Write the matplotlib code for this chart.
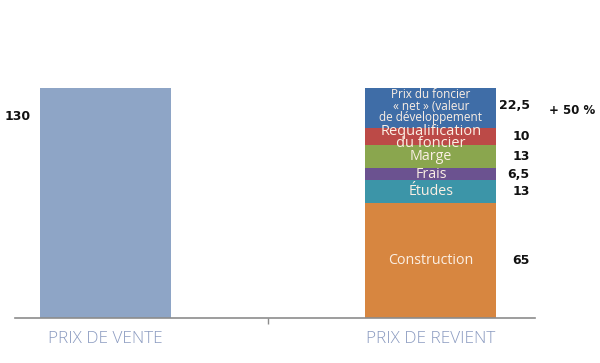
import matplotlib
matplotlib.use("Agg")
import matplotlib.pyplot as plt

categories = ["PRIX DE VENTE", "PRIX DE REVIENT"]
sale_value = 130
sale_label = "130"
cost_parts = ["Construction", "Études", "Frais", "Marge",
              "Requalification\ndu foncier",
              "Prix du foncier\n« net » (valeur\nde développement"]
cost_values = [65, 13, 6.5, 13, 10, 22.5]
cost_labels = ["65", "13", "6,5", "13", "10", "22,5"]
cost_colors = ["#D78640", "#3C95A8", "#6B5290", "#8AA64E", "#BC4A47", "#3F6DA7"]
increase_label = "+ 50 %"

plt.rcParams['font.family'] = ['Open Sans', 'DejaVu Sans']

fig = plt.figure(figsize=(6, 3.63), dpi=100)
ax = fig.add_axes([0.025, 0.124, 0.8667, 0.876])
bw = 0.403
ax.bar(0, sale_value, width=bw, color="#8EA5C6")
bottom = 0
inner_sizes = [10.3, 10.3, 10.3, 10.3, 10.5, 8.5]
inner_ls = [1, 1, 1, 1, 0.7, 0.82]
inner_shift = [0, 0, 0, 0, -0.6, 1.0]
for name, v, lab, c, fs, ls, sh in zip(cost_parts, cost_values, cost_labels,
                                       cost_colors, inner_sizes, inner_ls, inner_shift):
    ax.bar(1, v, width=bw, bottom=bottom, color=c)
    mid = bottom + v / 2
    ax.text(1, mid + sh, name, ha="center", va="center", color="#FBEFE4", fontsize=fs,
            linespacing=ls)
    ax.text(1.304, mid + (1.5 if v == 22.5 else 0), lab, ha="right", va="center",
            fontsize=9, fontweight="bold", color="#111111", family="DejaVu Sans")
    bottom += v

ax.text(-0.229, 113.6, sale_label, ha="right", va="center", fontsize=9,
        fontweight="bold", color="#111111", family="DejaVu Sans")
ax.text(1.433, 117, increase_label, ha="center", va="center", fontsize=8.5,
        fontweight="bold", color="#111111", family="DejaVu Sans", clip_on=False)

ax.set_xlim(-0.278, 1.32)
ax.set_ylim(0, 179.7)
for s in ["top", "right", "left"]:
    ax.spines[s].set_visible(False)
ax.spines["bottom"].set_color("#8C8C8C")
ax.spines["bottom"].set_linewidth(1.2)
ax.set_yticks([])
ax.set_xticks([0.5])
ax.set_xticklabels([""])
ax.tick_params(axis="x", length=4, color="#8C8C8C", width=1, direction="out")
for i, cat in enumerate(categories):
    ax.text(i, -12, cat, ha="center", va="center", fontsize=12.3,
            color="#8A9AC0", fontweight="light", clip_on=False)

fig.savefig("out.png", dpi=100)
